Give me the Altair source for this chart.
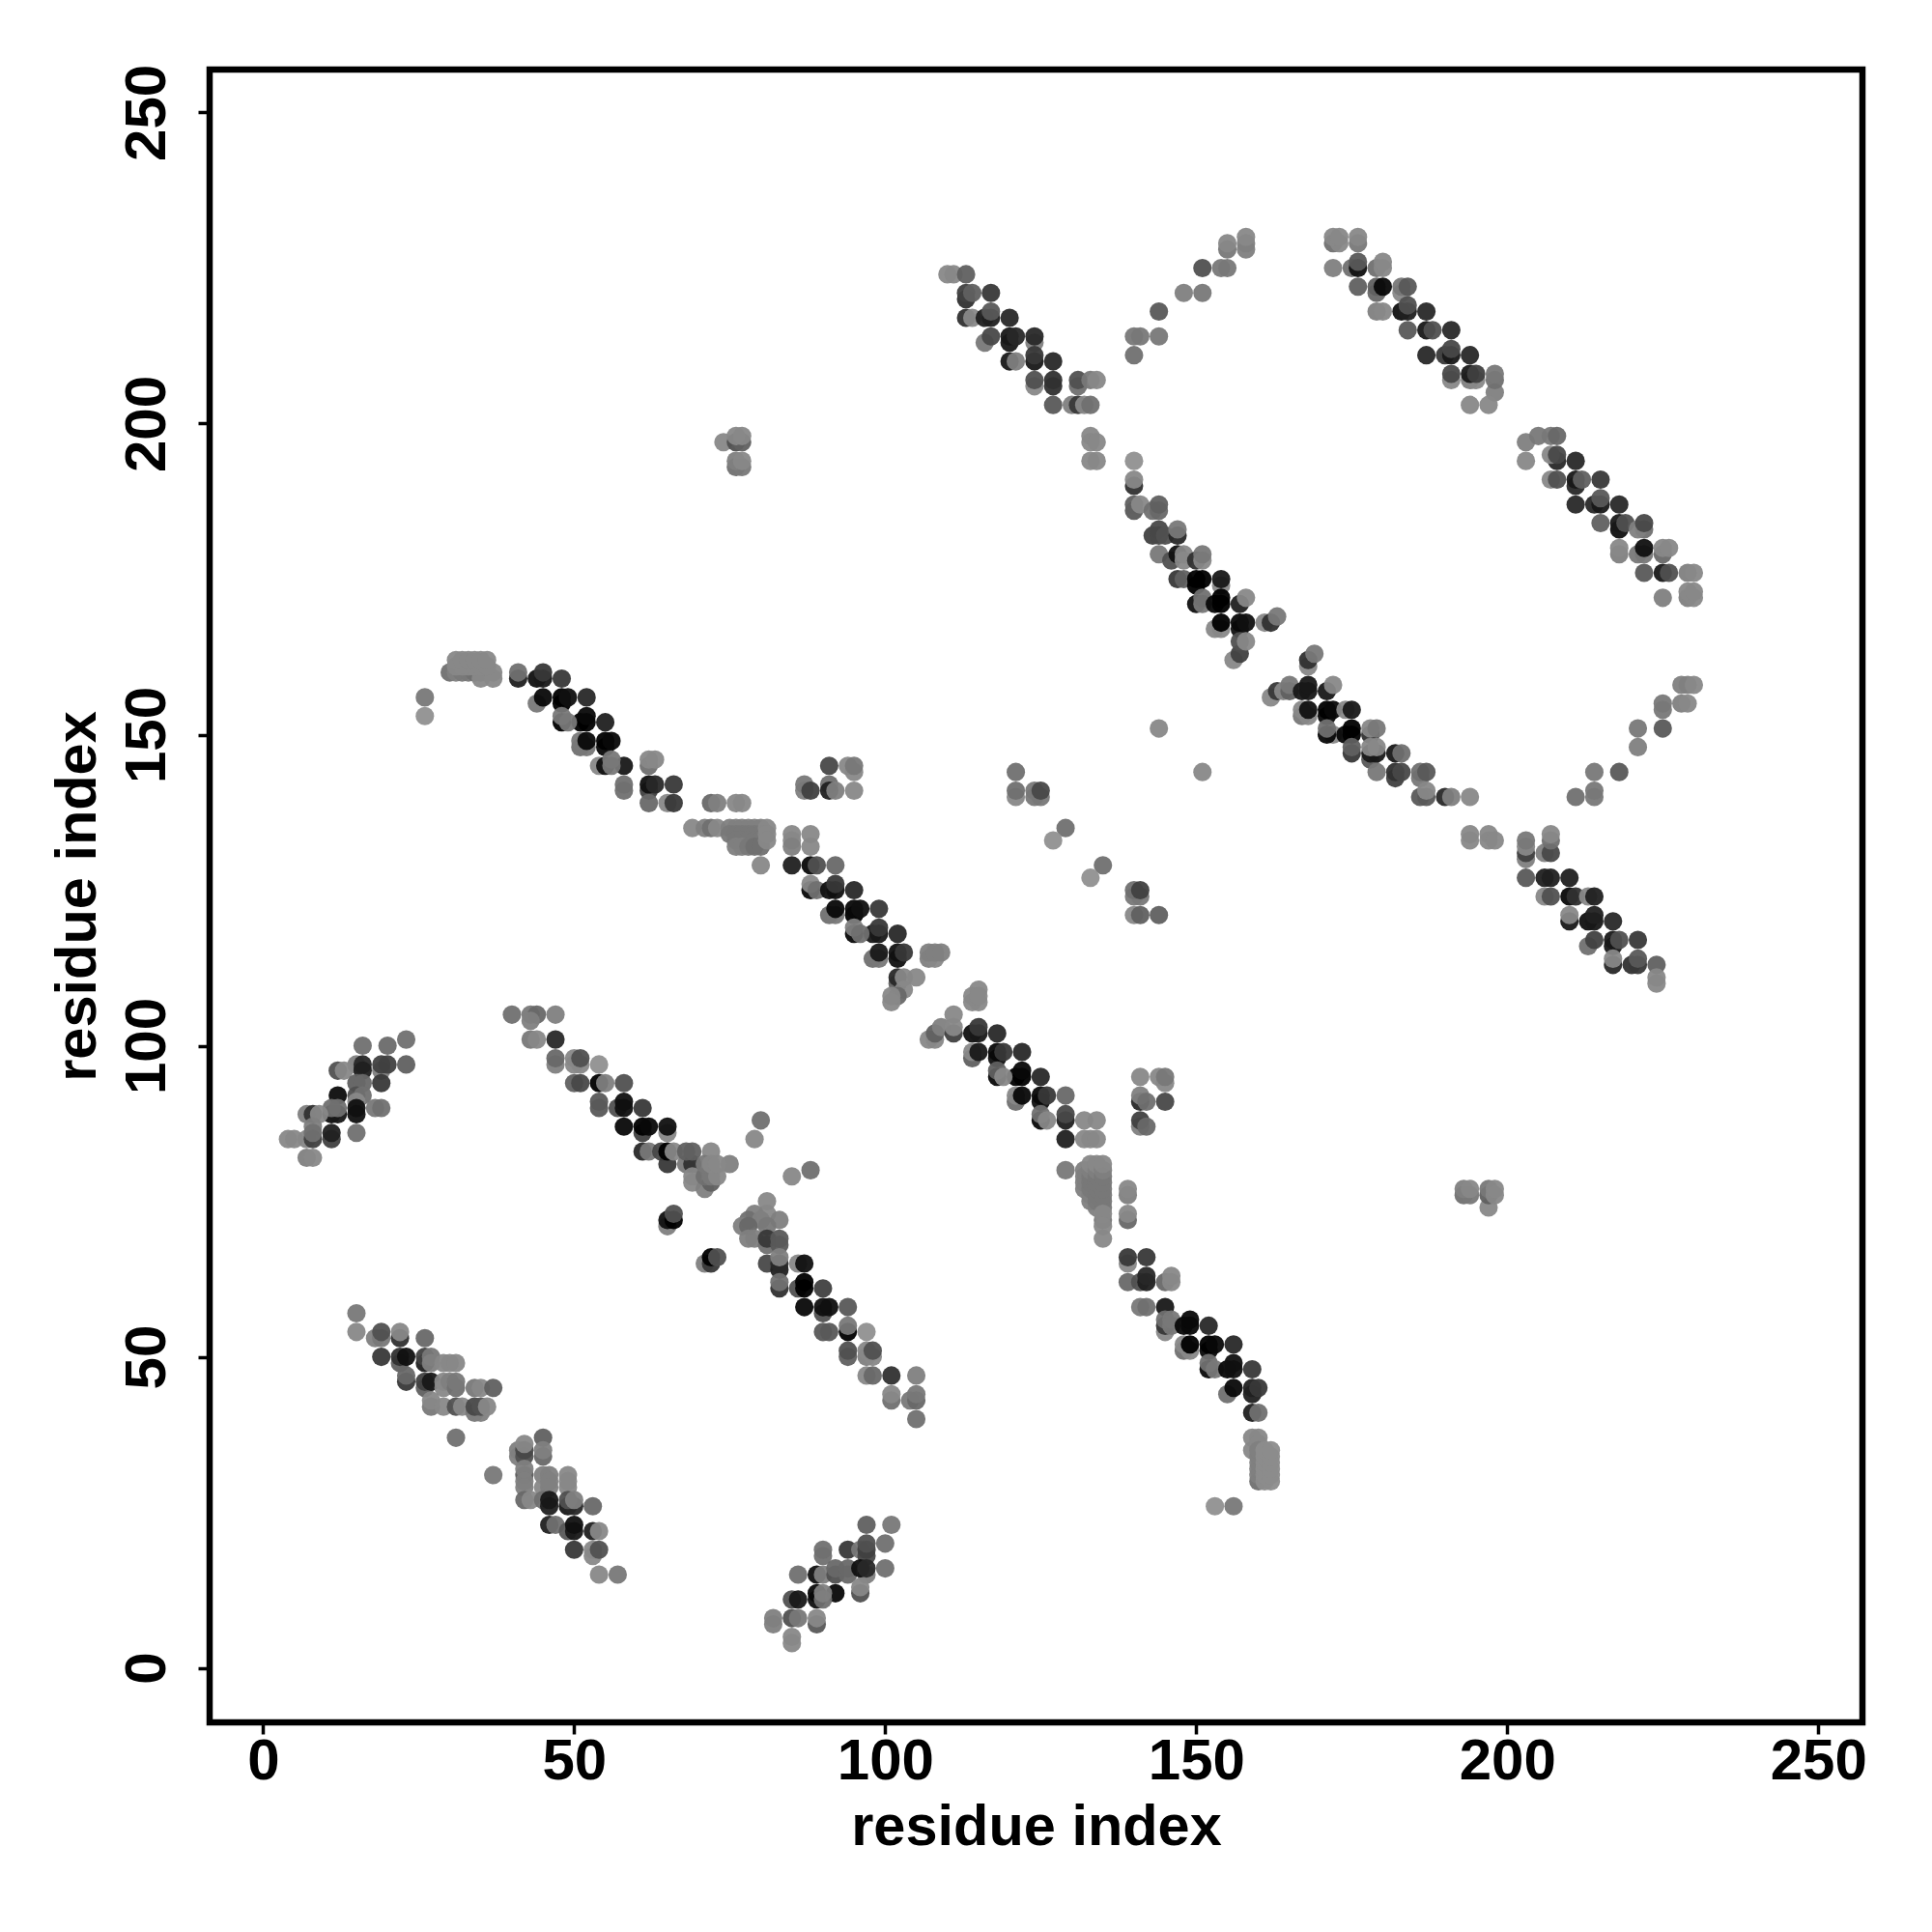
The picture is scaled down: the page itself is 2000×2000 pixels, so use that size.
import altair as alt
import pandas as pd

# each entry: residue x, residue y, grey level of the dot
left_patch = [(23,101,0x70),(16,100,0x70),(20,100,0x6a),(15,97,0x80),(16,97,0x28),(16,96,0x20),(19,96,0x80),(19,97,0x40),(20,97,0x40),(23,97,0x60),
 (12,96,0x50),(13,96,0x88),(19,94,0x38),(15,94,0x60),(16,94,0x68),(12,92,0x0c),(15,92,0x50),(16,92,0x70),(15,91,0x88),(18,90,0x78),(19,90,0x70),
 (15,89,0x10),(15,90,0x10),(11,89,0x10),(12,89,0x18),(11,90,0x70),(12,90,0x70),(7,89,0x80),(8,89,0x30),(9,89,0x88),(8,87,0x80),(11,85,0x40),(11,86,0x20),
 (15,86,0x70),(4,85,0x88),(5,85,0x88),(7,85,0x88),(8,85,0x40),(8,86,0x70),(7,82,0x80),(8,82,0x88)]

band_two_a = [(40,105,0x70),(43,105,0x78),(44,105,0x68),(47,105,0x80),(43,104,0x80),(43,101,0x78),(44,101,0x88),(47,101,0x28),(47,97,0x80),(47,98,0x68),
 (50,97,0x88),(51,97,0x88),(50,98,0x88),(51,98,0x50),(54,97,0x90),(50,94,0x60),(51,94,0x48),(54,94,0x00),(55,94,0x80),(58,94,0x50),(54,91,0x58),(54,90,0x58),
 (57,90,0x50),(58,91,0x10),(58,90,0x10),(61,90,0x38),(58,87,0x08),(61,86,0x40),(61,87,0x00),(62,87,0x08),(65,86,0x88),(65,87,0x10),(61,83,0x28),(62,83,0x78),
 (64,83,0x48),(65,81,0x38),(65,83,0x00),(66,83,0x88),(68,81,0x78),(69,81,0x30),(68,83,0x60),(69,83,0x60),(72,83,0x88),(75,81,0x80),
 (69,79,0x88),(69,78,0x88),(71,77,0x80),(72,78,0x60),(71,79,0x70),(72,79,0x78),(73,79,0x88),(71,81,0x78),(72,81,0x88),(73,81,0x88)]

band_two_gap = [(65,71,0x80),(65,72,0x10),(66,72,0x00),(66,73,0x50),(71,65,0x80),(72,65,0x38),(72,66,0x00),(73,66,0x50),(79,85,0x88),(80,88,0x70),(85,79,0x88),(88,80,0x70)]

band_two_b = [(81,75,0x88),(81,73,0x88),(79,73,0x80),(78,72,0x70),(80,72,0x80),(83,72,0x80),(77,71,0x80),(78,71,0x68),(81,71,0x78),(78,69,0x80),(79,69,0x80),
 (81,68,0x70),(81,69,0x38),(83,68,0x58),(83,69,0x58),(81,65,0x48),(83,64,0x20),(83,65,0x28),(83,66,0x80),(86,65,0x88),(87,65,0x10),(86,61,0x50),(87,62,0x00),(87,61,0x00),
 (83,61,0x30),(83,62,0x70),(90,61,0x40),(87,58,0x08),(90,57,0x50),(90,58,0x10),(91,58,0x10),(94,58,0x58),(90,54,0x58),(91,54,0x58),(94,54,0x00),(94,55,0x78),(97,54,0x90),
 (94,50,0x60),(94,51,0x50),(97,50,0x80),(98,50,0x88),(97,51,0x88),(98,51,0x50),(97,47,0x88),(98,47,0x68),(101,47,0x30),(105,47,0x80),(101,43,0x70),(101,44,0x88),
 (104,43,0x78),(105,43,0x68),(105,44,0x78),(105,40,0x70)]

bottom_band_a = [(15,57,0x78),(15,54,0x88),(18,53,0x80),(19,53,0x78),(19,54,0x50),(22,53,0x30),(22,54,0x88),(26,53,0x68),(19,50,0x38),(22,49,0x60),(22,50,0x30),(23,50,0x10),
 (26,49,0x20),(26,50,0x40),(27,50,0x78),(27,49,0x80),(29,49,0x88),(30,49,0x88),(31,49,0x88),(23,46,0x38),(23,47,0x68),(26,45,0x60),(26,46,0x40),(27,46,0x18),
 (29,45,0x88),(29,46,0x88),(30,46,0x80),(31,45,0x70),(31,46,0x78),(34,45,0x78),(35,45,0x88),(37,45,0x60),(27,42,0x78),(27,43,0x88),(29,42,0x88),(31,42,0x50),(32,42,0x88),
 (34,41,0x78),(35,41,0x80),(34,42,0x48),(35,42,0x50),(36,42,0x88),(31,37,0x70),(37,31,0x78)]

bottom_band_b = [(45,37,0x60),(41,34,0x80),(41,35,0x80),(42,34,0x50),(42,35,0x48),(42,36,0x88),(45,34,0x68),(45,35,0x80),(42,31,0x58),(42,32,0x80),(42,30,0x80),(42,29,0x80),
 (45,31,0x80),(46,31,0x80),(45,29,0x88),(46,29,0x80),(46,30,0x80),(49,31,0x88),(49,29,0x88),(49,30,0x88),(42,27,0x68),(43,27,0x88),(45,27,0x70),(46,26,0x20),(46,27,0x18),
 (49,26,0x18),(50,26,0x28),(49,27,0x50),(50,27,0x80),(53,26,0x68),(46,23,0x20),(47,23,0x70),(49,22,0x58),(50,22,0x18),(50,23,0x10),(53,22,0x20),(54,22,0x88),(50,19,0x38),
 (53,18,0x88),(53,19,0x88),(54,19,0x50),(54,15,0x88),(57,15,0x78)]

bottom_patch = [(97,23,0x60),(101,23,0x78),(90,18,0x70),(90,19,0x70),(94,19,0x38),(96,19,0x78),(97,18,0x48),(97,19,0x40),(97,20,0x50),(100,20,0x70),(86,15,0x70),(89,15,0x10),(90,15,0x80),
 (92,15,0x50),(92,16,0x68),(94,15,0x68),(94,16,0x68),(97,15,0x80),(96,16,0x10),(97,16,0x28),(100,16,0x70),(96,12,0x50),(96,13,0x88),(92,12,0x08),(89,11,0x10),(89,12,0x08),(90,11,0x70),(90,12,0x80),
 (85,11,0x50),(86,11,0x18),(82,7,0x80),(82,8,0x80),(85,8,0x50),(86,8,0x78),(85,5,0x88),(85,4,0x88),(89,7,0x58),(89,8,0x88)]

main_a = [(26,156,0x78),(26,153,0x90),(30,160,0x70),(31,160,0x80),(32,160,0x78),(33,160,0x78),(34,160,0x70),(35,160,0x70),(35,159,0x88),(37,160,0x88),(37,159,0x88),
 (31,161,0x88),(32,161,0x88),(33,161,0x88),(34,161,0x88),(35,161,0x88),(36,161,0x88),(31,162,0x88),(32,162,0x88),(33,162,0x88),(34,162,0x88),(35,162,0x88),(36,162,0x88),
 (41,159,0x20),(41,160,0x70),(44,159,0x10),(45,159,0x18),(45,160,0x38),(48,159,0x38),(44,155,0x78),(45,156,0x08),(48,155,0x00),(48,156,0x00),(49,156,0x10),(52,156,0x28),
 (51,152,0x00),(52,152,0x00),(52,153,0x08),(48,152,0x00),(48,153,0x78),(49,152,0x78),(55,152,0x20),(51,148,0x70),(52,148,0x78),(51,149,0x78),(52,149,0x08),
 (55,148,0x08),(55,149,0x00),(56,149,0x08),(58,145,0x18),(54,145,0x88),(55,145,0x10),(56,145,0x78),(56,146,0x78),(58,141,0x70),(58,142,0x70),(62,145,0x70),(62,146,0x88),(63,146,0x88),
 (62,141,0x40),(62,142,0x10),(63,142,0x28),(66,142,0x38),(62,139,0x68),(65,139,0x88),(66,139,0x38),(72,139,0x68),(73,139,0x80),(76,139,0x88),(77,139,0x88)]

main_blob = [(69,135,0x88),(71,135,0x80),(72,135,0x70),(73,135,0x88),(75,135,0x80),(76,135,0x80),(77,135,0x80),(78,135,0x80),(79,135,0x80),(80,135,0x80),
 (75,134,0x78),(76,134,0x78),(77,134,0x78),(78,134,0x78),(79,134,0x78),(80,134,0x78),(76,133,0x78),(77,133,0x78),(78,133,0x78),(79,133,0x78),(80,133,0x78),
 (76,132,0x80),(77,132,0x80),(78,132,0x78),(79,132,0x70),(80,132,0x70),(81,135,0x88),(81,134,0x88),(81,133,0x88),(80,129,0x88)]

main_b = [(85,134,0x88),(88,134,0x88),(85,133,0x88),(85,132,0x80),(88,132,0x88),(85,129,0x20),(88,129,0x08),(89,129,0x50),(92,129,0x68),(88,125,0x08),(88,126,0x88),(89,125,0x70),
 (91,125,0x10),(92,125,0x10),(92,126,0x38),(95,125,0x28),(91,121,0x70),(92,121,0x78),(92,122,0x08),(95,121,0x00),(95,122,0x08),(96,122,0x10),(99,122,0x38),
 (98,118,0x18),(99,118,0x18),(99,119,0x38),(95,118,0x08),(95,119,0x80),(96,118,0x70),(102,118,0x28),(98,114,0x70),(99,114,0x78),(99,115,0x18),
 (102,114,0x10),(102,115,0x10),(103,115,0x38),(107,114,0x80),(108,114,0x88),(107,115,0x80),(108,115,0x80),(109,115,0x80),(102,110,0x60),(102,111,0x28),(103,111,0x88),(105,111,0x88),
 (103,109,0x88),(102,108,0x68),(101,107,0x88),(101,108,0x88)]

main_c = [(115,109,0x88),(114,107,0x88),(115,107,0x88),(114,108,0x88),(115,108,0x88),(111,105,0x88),(107,101,0x88),(108,101,0x88),(108,102,0x60),(109,103,0x80),(111,102,0x40),(111,103,0x88),
 (114,102,0x10),(115,102,0x18),(115,103,0x38),(118,102,0x28),(114,98,0x60),(114,99,0x88),(115,99,0x18),(118,98,0x10),(118,99,0x08),(119,99,0x38),(122,99,0x28),
 (121,95,0x00),(122,95,0x00),(122,96,0x08),(118,95,0x08),(118,96,0x60),(119,95,0x88),(125,95,0x28),(121,91,0x70),(121,92,0x88),(122,92,0x08),(125,91,0x10),(125,92,0x08),(126,92,0x38),
 (129,92,0x68),(129,88,0x20),(129,89,0x48),(125,88,0x08),(125,89,0x70),(126,88,0x88),(129,85,0x20),(132,88,0x88),(134,88,0x88),(132,85,0x88),(133,85,0x88),(134,85,0x88),(129,80,0x78)]

main_stack = [(132,77,0x80),(132,78,0x80),(132,79,0x80),(132,80,0x80),(133,75,0x80),(133,76,0x80),(133,77,0x78),(133,78,0x78),(133,79,0x78),(133,80,0x80),(133,81,0x88),
 (134,74,0x80),(134,75,0x78),(134,76,0x78),(134,77,0x78),(134,78,0x78),(134,79,0x78),(134,80,0x80),(134,81,0x88),
 (135,72,0x78),(135,74,0x78),(135,75,0x78),(135,76,0x78),(135,77,0x78),(135,78,0x78),(135,79,0x78),(135,80,0x80),(135,81,0x88),(135,73,0x88),(135,71,0x88),(135,69,0x88),
 (139,76,0x80),(139,77,0x88),(139,72,0x68),(139,73,0x88)]

main_d = [(139,65,0x88),(139,66,0x38),(142,66,0x38),(139,62,0x68),(141,62,0x50),(142,62,0x20),(142,63,0x28),(145,62,0x68),(146,62,0x88),(146,63,0x88),(141,58,0x78),(142,58,0x70),(145,58,0x18),
 (145,54,0x88),(145,55,0x38),(145,56,0x70),(146,55,0x78),(146,56,0x78),(148,55,0x08),(149,55,0x08),(149,56,0x08),(152,55,0x28),(148,51,0x70),(149,51,0x88),(148,52,0x88),(149,52,0x00),
 (152,51,0x08),(152,52,0x00),(153,52,0x08),(156,52,0x28),(152,48,0x08),(152,49,0x70),(153,48,0x78),(155,48,0x08),(156,48,0x10),(156,49,0x10),(159,48,0x38),(155,44,0x70),(156,45,0x08),
 (159,44,0x20),(159,45,0x20),(160,45,0x38),(159,41,0x20),(160,41,0x70)]

main_tail = [(159,35,0x88),(159,37,0x88),(160,37,0x88),(160,36,0x88),(160,30,0x70),(160,31,0x80),(160,32,0x80),(160,33,0x80),(160,34,0x80),(160,35,0x80),
 (161,30,0x8c),(161,31,0x8c),(161,32,0x8c),(161,33,0x8c),(161,34,0x8c),(161,35,0x8c),(162,30,0x8c),(162,31,0x8c),(162,32,0x8c),(162,33,0x8c),(162,34,0x8c),(162,35,0x8c),(153,26,0x90),(156,26,0x78)]

islands = [(91,145,0x48),(94,145,0x88),(95,144,0x88),(95,145,0x78),(87,141,0x80),(87,142,0x78),(88,141,0x40),(91,142,0x70),(91,141,0x20),(92,141,0x80),(95,141,0x88),
 (121,144,0x70),(121,140,0x88),(121,141,0x70),(124,140,0x78),(125,140,0x78),(124,141,0x78),(125,141,0x48),(129,135,0x70),(127,133,0x90),(135,129,0x70),(133,127,0x90),
 (140,124,0x78),(141,124,0x78),(140,125,0x70),(141,125,0x40),(140,121,0x88),(141,121,0x60),(144,121,0x60),(141,95,0x88),(144,95,0x88),(145,94,0x88),(145,95,0x78),
 (141,91,0x28),(141,92,0x80),(142,91,0x70),(145,91,0x48),(141,87,0x80),(141,88,0x40),(142,87,0x68),
 (193,76,0x70),(194,76,0x78),(193,77,0x80),(194,77,0x88),(197,74,0x88),(197,76,0x60),(197,77,0x78),(198,76,0x88),(198,77,0x88),(144,151,0x88),(151,144,0x88),
 (74,197,0x88),(76,197,0x50),(77,197,0x60),(76,198,0x88),(77,198,0x88),(76,193,0x70),(77,193,0x78),(76,194,0x80),(77,194,0x88)]

top_a = [(110,224,0x88),(111,224,0x88),(113,224,0x60),(113,220,0x30),(113,221,0x40),(114,221,0x60),(117,221,0x38),(113,217,0x30),(114,217,0x88),(116,217,0x20),(117,217,0x20),(117,218,0x58),(120,217,0x28),
 (116,213,0x78),(117,214,0x48),(120,213,0x18),(120,214,0x18),(121,214,0x28),(124,213,0x80),(124,214,0x28),(120,210,0x18),(121,210,0x80),(124,210,0x18),(124,211,0x38),(127,210,0x28),
 (124,206,0x88),(124,207,0x50),(127,206,0x30),(127,207,0x30),(131,206,0x70),(131,207,0x50),(133,207,0x78),(134,207,0x88),(127,203,0x58),(130,203,0x80),(131,203,0x38),(132,203,0x88),(133,203,0x70),
 (133,198,0x88),(133,197,0x88),(134,197,0x88),(133,194,0x88),(134,194,0x88)]

centre_a = [(140,194,0x90),(140,190,0x30),(140,191,0x88),(140,186,0x58),(140,187,0x60),(141,187,0x88),(143,186,0x70),(144,186,0x68),(144,187,0x60),(143,182,0x40),(144,182,0x48),(144,183,0x48),(145,182,0x50),
 (147,182,0x28),(147,183,0x78),(144,179,0x78),(146,178,0x50),(147,179,0x10),(148,178,0x88),(148,179,0x88),(150,178,0x30),(151,178,0x88),(151,179,0x78),(147,175,0x38),(148,175,0x60),
 (150,174,0x00),(150,175,0x00),(151,175,0x00),(154,174,0x88),(154,175,0x18),(150,171,0x10),(151,171,0x78),(151,172,0x70),(153,171,0x08),(154,171,0x00),(154,172,0x00),(157,171,0x20),(158,172,0x88),
 (153,167,0x88),(154,167,0x88),(154,168,0x00),(157,167,0x10),(157,168,0x08),(158,168,0x10),(161,168,0x88),(162,168,0x30),(163,169,0x78),(156,162,0x88),(157,163,0x40),(157,165,0x50),(158,165,0x88)]

centre_b = [(168,161,0x88),(168,162,0x30),(169,163,0x78),(162,156,0x88),(163,157,0x38),(164,157,0x88),(165,157,0x60),(165,158,0x78),(167,157,0x18),(168,157,0x18),(168,158,0x18),(171,157,0x18),(172,158,0x88),
 (167,153,0x78),(168,153,0x88),(167,154,0x88),(168,154,0x10),(171,153,0x08),(171,154,0x00),(172,154,0x08),(174,154,0x88),(175,154,0x18),(172,150,0x88),(171,150,0x08),(171,151,0x70),
 (174,150,0x08),(175,150,0x00),(175,151,0x00),(178,150,0x30),(178,151,0x88),(179,151,0x78),(175,147,0x38),(175,148,0x60),(178,146,0x58),(178,147,0x18),(179,147,0x18),(178,148,0x88),(179,148,0x88),(179,144,0x78),
 (182,147,0x18),(183,147,0x70),(182,143,0x40),(182,144,0x30),(183,144,0x48),(186,143,0x78),(186,144,0x70),(187,144,0x58),(186,140,0x58),(187,140,0x58),(187,141,0x88),(190,140,0x28),(191,140,0x80),(194,140,0x88)]

v_left = [(140,211,0x70),(140,214,0x78),(141,214,0x78),(144,214,0x78),(144,218,0x58),(148,221,0x80),(151,221,0x78),(151,225,0x50),(154,225,0x78),(155,225,0x78),(155,228,0x78),(155,229,0x88),
 (158,228,0x80),(158,229,0x80),(158,230,0x88)]

v_right = [(211,140,0x70),(214,140,0x78),(214,141,0x78),(214,144,0x78),(218,144,0x58),(221,148,0x80),(221,151,0x78),(225,151,0x58),(225,154,0x78),(225,155,0x78),(228,155,0x80),(229,155,0x88),
 (228,158,0x80),(229,158,0x80),(230,158,0x88)]

upper_band = [(172,229,0x70),(173,229,0x88),(172,230,0x88),(173,230,0x88),(176,229,0x78),(176,230,0x88),(172,225,0x80),(175,225,0x70),(176,225,0x10),(176,226,0x58),(179,225,0x70),(180,225,0x88),(180,226,0x88),
 (176,222,0x60),(179,221,0x68),(179,222,0x60),(180,222,0x08),(183,221,0x88),(183,222,0x78),(184,222,0x58),(179,218,0x80),(180,218,0x88),(183,218,0x10),(184,218,0x20),(184,219,0x50),(187,218,0x28),
 (184,215,0x58),(187,215,0x18),(188,215,0x50),(191,215,0x28),(187,211,0x28),(190,211,0x38),(191,211,0x18),(191,212,0x48),(194,211,0x28),(191,207,0x88),(191,208,0x48),(194,207,0x80),(195,207,0x88),(194,208,0x18),(195,208,0x40),
 (198,205,0x80),(198,207,0x70),(198,208,0x78),(194,203,0x88),(197,203,0x88)]

right_band_a = [(203,194,0x88),(203,197,0x80),(205,198,0x78),(207,198,0x78),(208,198,0x68),(208,194,0x28),(207,195,0x88),(208,195,0x48),(211,194,0x28),(207,191,0x88),(208,191,0x50),(211,190,0x28),(211,191,0x18),(212,191,0x60),(215,191,0x38),
 (211,187,0x28),(214,187,0x28),(215,187,0x18),(215,188,0x58),(218,187,0x28),(215,184,0x60),(218,183,0x10),(218,184,0x18),(219,184,0x50),(222,183,0x70),(221,183,0x80),(222,184,0x48),
 (218,179,0x80),(218,180,0x88),(221,179,0x78),(222,179,0x78),(222,180,0x10),(225,179,0x68),(225,180,0x88),(226,180,0x88),(222,176,0x58),(225,176,0x18),(226,176,0x50),(229,176,0x80),(230,176,0x88),
 (225,172,0x80),(229,172,0x80),(230,172,0x88),(229,173,0x88),(230,173,0x88)]

right_band_b = [(194,133,0x88),(194,134,0x88),(197,133,0x88),(197,134,0x88),(198,133,0x88),(203,130,0x80),(203,131,0x40),(203,132,0x88),(203,133,0x78),(206,131,0x80),(207,131,0x48),(207,133,0x70),(207,134,0x88),
 (203,127,0x58),(206,127,0x20),(207,127,0x20),(210,127,0x20),(206,124,0x88),(207,124,0x50),(210,124,0x08),(211,124,0x30),(213,124,0x88),(214,124,0x20),(210,120,0x18),(210,121,0x88),
 (213,120,0x10),(214,120,0x18),(214,121,0x20),(217,120,0x28),(213,116,0x70),(214,117,0x40),(217,116,0x18),(217,117,0x18),(218,117,0x50),(221,117,0x38),(217,113,0x28),(217,114,0x88),
 (220,113,0x30),(221,113,0x38),(221,114,0x58),(224,113,0x60),(224,110,0x88),(224,111,0x88)]

groups = [left_patch, band_two_a, band_two_gap, band_two_b, bottom_band_a, bottom_band_b, bottom_patch, main_a, main_blob, main_b, main_c,
          main_stack, main_d, main_tail, islands, top_a, centre_a, centre_b, v_left, v_right, upper_band, right_band_a, right_band_b]

rows = [p for g in groups for p in g]
df = pd.DataFrame(rows, columns=["x", "y", "g"])
df["colour"] = [f"rgb({v},{v},{v})" for v in df["g"]]

FONT = "Liberation Sans"
TICKS = [0, 50, 100, 150, 200, 250]

chart = (
    alt.Chart(df)
    .mark_circle(size=365, opacity=0.95, stroke=None)
    .encode(
        x=alt.X("x:Q", scale=alt.Scale(domain=[-8.6, 257.1], nice=False, zero=False),
                axis=alt.Axis(values=TICKS, title="residue index", grid=False, domain=False,
                              tickSize=12, tickWidth=3.5, tickColor="black", labelAngle=0,
                              labelFont=FONT, labelFontSize=60, labelFontWeight="bold", labelColor="black",
                              labelPadding=-1, labelFlush=False, labelOverlap=False,
                              titleFont=FONT, titleFontSize=59.5, titleFontWeight="bold", titleColor="black",
                              titlePadding=9)),
        y=alt.Y("y:Q", scale=alt.Scale(domain=[-8.75, 256.9], nice=False, zero=False),
                axis=alt.Axis(values=TICKS, title="residue index", grid=False, domain=False,
                              tickSize=12, tickWidth=3.5, tickColor="black", labelAngle=270,
                              labelAlign="center", labelBaseline="alphabetic",
                              labelFont=FONT, labelFontSize=60, labelFontWeight="bold", labelColor="black",
                              labelPadding=35, labelFlush=False, labelOverlap=False,
                              titleFont=FONT, titleFontSize=59.5, titleFontWeight="bold", titleColor="black",
                              titlePadding=12)),
        color=alt.Color("colour:N", scale=None),
    )
    .properties(width=1711, height=1711, background="white",
                padding={"left": 209, "top": 64, "right": 60, "bottom": 200},
                autosize=alt.AutoSizeParams(type="none"))
    .configure_view(stroke="black", strokeWidth=6.5)
)

chart.save("out.html", embed_options={"renderer": "svg", "actions": False})
